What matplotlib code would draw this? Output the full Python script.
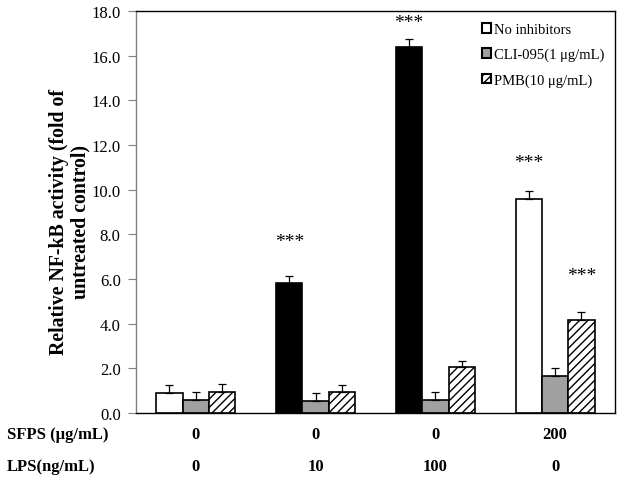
import matplotlib
matplotlib.use("Agg")
import matplotlib.pyplot as plt
from matplotlib.patches import Patch
import numpy as np

plt.rcParams['font.family'] = ['Liberation Serif', 'DejaVu Serif']

sfps = ["0", "0", "0", "200"]
lps = ["0", "10", "100", "0"]
series_names = ["No inhibitors", "CLI-095(1 \u03bcg/mL)", "PMB(10 \u03bcg/mL)"]
no_inhib = [0.90, 5.80, 16.40, 9.60]
no_inhib_err = [0.35, 0.32, 0.35, 0.35]
cli = [0.58, 0.55, 0.58, 1.67]
cli_err = [0.36, 0.35, 0.35, 0.34]
pmb = [0.95, 0.95, 2.05, 4.16]
pmb_err = [0.35, 0.30, 0.30, 0.35]
# first-series bar fill per group (LPS-stimulated groups shown in black)
first_colors = ["white", "black", "black", "white"]
stars = [None, "***", "***", "***"]
star_gap = [0, 1.55, 0.75, 1.25]
pmb_stars = [None, None, None, "***"]
pmb_star_gap = [0, 0, 0, 1.65]

fig = plt.figure(figsize=(6.22, 4.81), dpi=100)
ax = fig.add_axes([0.2186, 0.1393, 0.9887 - 0.2186, 0.975 - 0.1393])

x = np.arange(len(sfps))
w = 0.22
ekw = dict(ecolor='black', elinewidth=0.9, capsize=3, capthick=0.9)

def up(e):
    return [np.zeros(len(e)), e]

ax.bar(x - w, no_inhib, w, color=first_colors, edgecolor='black', linewidth=1.2,
       yerr=up(no_inhib_err), error_kw=ekw, zorder=2)
ax.bar(x, cli, w, color='#a0a0a0', edgecolor='black', linewidth=1.2,
       yerr=up(cli_err), error_kw=ekw, zorder=2)
ax.bar(x + w, pmb, w, color='white', edgecolor='black', linewidth=1.2, hatch='////',
       yerr=up(pmb_err), error_kw=ekw, zorder=2)

for i, s in enumerate(stars):
    if s:
        ax.text(x[i] - w, no_inhib[i] + no_inhib_err[i] + star_gap[i], s, ha='center',
                va='center', fontsize=14)
for i, s in enumerate(pmb_stars):
    if s:
        ax.text(x[i] + w, pmb[i] + pmb_err[i] + pmb_star_gap[i], s, ha='center',
                va='center', fontsize=14)

ax.set_xlim(-0.5, 3.5)
ax.set_ylim(0, 18)
ticks = np.arange(0, 18.1, 2.0)
ax.set_yticks(ticks)
ax.set_yticklabels([f"{v:.1f}" for v in ticks], fontsize=12)
ax.set_xticks([])
ax.tick_params(axis='y', direction='out', length=6, width=0.8, color='#808080', pad=5)
for sp in ['left', 'right', 'top', 'bottom']:
    ax.spines[sp].set_linewidth(1.0)
ax.spines['left'].set_color('#808080')

ax.set_ylabel("Relative NF-kB activity (fold of\nuntreated control)", fontsize=14.3,
              fontweight='bold', linespacing=1.05)
ax.yaxis.set_label_coords(-0.096, 0.478)

# category rows below axis
for i in range(len(sfps)):
    ax.text(x[i], -0.052, sfps[i], transform=ax.get_xaxis_transform(), ha='center',
            va='center', fontsize=12, fontweight='bold')
    ax.text(x[i], -0.132, lps[i], transform=ax.get_xaxis_transform(), ha='center',
            va='center', fontsize=12, fontweight='bold')
fig.text(7 / 622, 1 - 435 / 481, "SFPS (\u03bcg/mL)", ha='left', va='center', fontsize=12,
         fontweight='bold')
fig.text(7 / 622, 1 - 467 / 481, "LPS(ng/mL)", ha='left', va='center', fontsize=12,
         fontweight='bold')

handles = [Patch(facecolor='white', edgecolor='black', linewidth=1.5),
           Patch(facecolor='#a0a0a0', edgecolor='black', linewidth=1.5),
           Patch(facecolor='white', edgecolor='black', hatch='////', linewidth=1.5)]
ax.legend(handles, series_names, loc='upper right', frameon=False, fontsize=10.5,
          handlelength=0.6, handleheight=0.6, handletextpad=0.25, labelspacing=0.8,
          borderaxespad=0.3, bbox_to_anchor=(1.0, 0.995))

fig.savefig("out.png", dpi=100)
